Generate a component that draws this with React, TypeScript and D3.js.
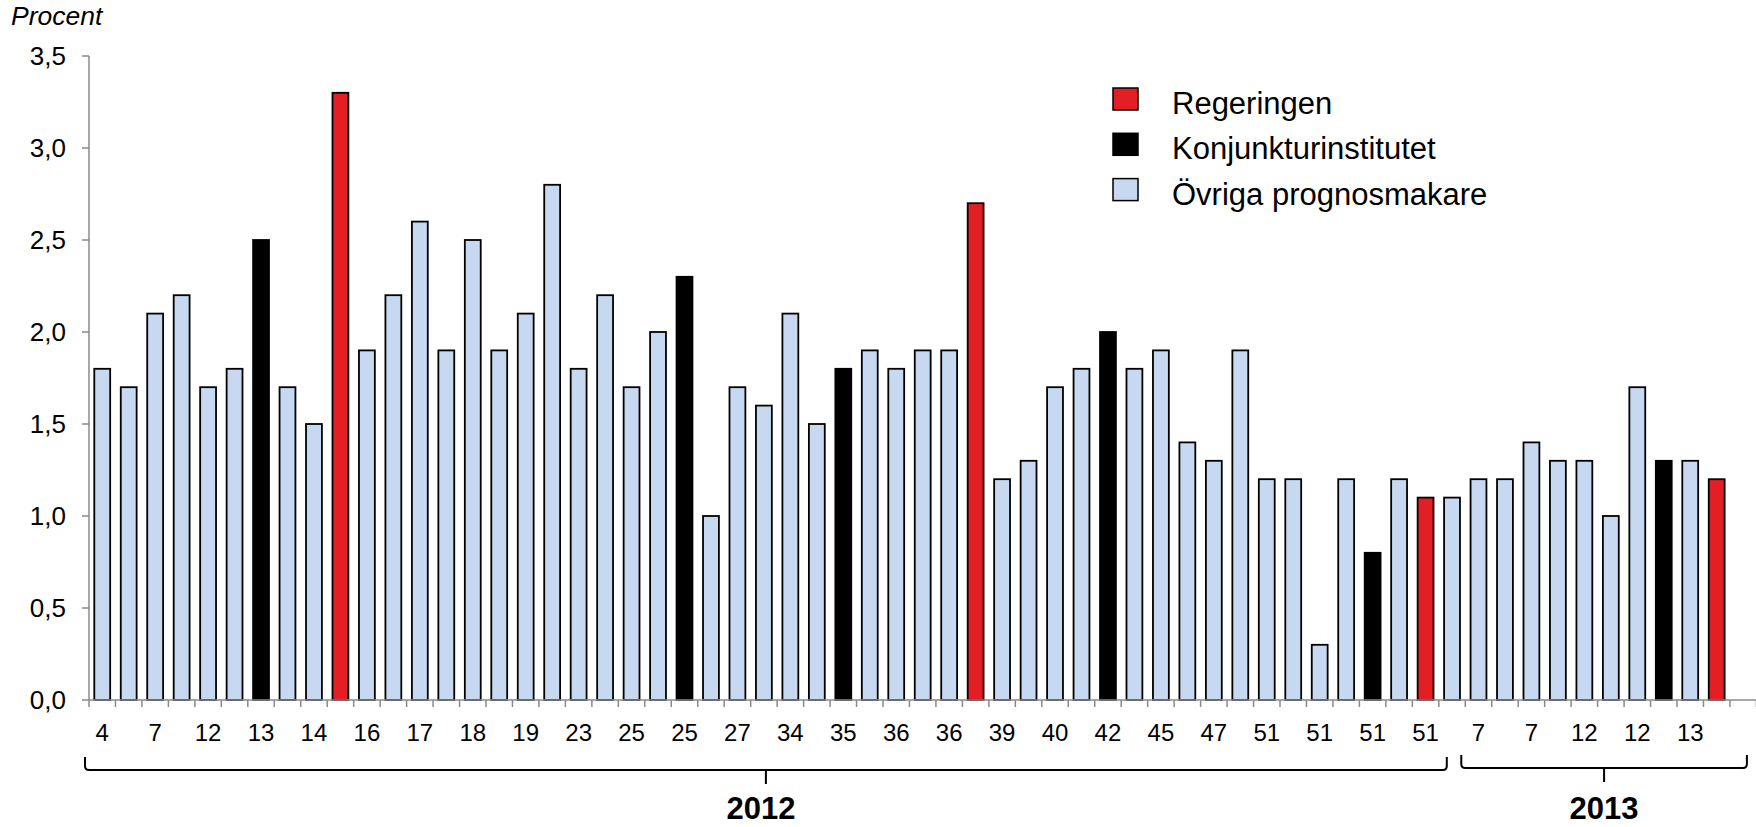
import React from "react";
import * as d3 from "d3";

// Week labels (every other bar), last slot is empty
const weekLabels: string[] = [
  "4", "", "7", "", "12", "", "13", "", "14", "", "16", "", "17", "", "18", "", "19", "", "23", "",
  "25", "", "25", "", "27", "", "34", "", "35", "", "36", "", "36", "", "39", "", "40", "", "42", "",
  "45", "", "47", "", "51", "", "51", "", "51", "", "51", "", "7", "", "7", "", "12", "", "12", "",
  "13", "", "",
];

const values: number[] = [
  1.8, 1.7, 2.1, 2.2, 1.7, 1.8, 2.5, 1.7, 1.5, 3.3,
  1.9, 2.2, 2.6, 1.9, 2.5, 1.9, 2.1, 2.8, 1.8, 2.2,
  1.7, 2.0, 2.3, 1.0, 1.7, 1.6, 2.1, 1.5, 1.8, 1.9,
  1.8, 1.9, 1.9, 2.7, 1.2, 1.3, 1.7, 1.8, 2.0, 1.8,
  1.9, 1.4, 1.3, 1.9, 1.2, 1.2, 0.3, 1.2, 0.8, 1.2,
  1.1, 1.1, 1.2, 1.2, 1.4, 1.3, 1.3, 1.0, 1.7, 1.3,
  1.3, 1.2,
];

// R = Regeringen, K = Konjunkturinstitutet, O = Övriga prognosmakare
const sources: string[] = [
  "O", "O", "O", "O", "O", "O", "K", "O", "O", "R",
  "O", "O", "O", "O", "O", "O", "O", "O", "O", "O",
  "O", "O", "K", "O", "O", "O", "O", "O", "K", "O",
  "O", "O", "O", "R", "O", "O", "O", "O", "K", "O",
  "O", "O", "O", "O", "O", "O", "O", "O", "K", "O",
  "R", "O", "O", "O", "O", "O", "O", "O", "O", "K",
  "O", "R",
];

const yTicks: number[] = [0, 0.5, 1, 1.5, 2, 2.5, 3, 3.5];

const legendKeys: string[] = ["R", "K", "O"];
const legendNames: string[] = ["Regeringen", "Konjunkturinstitutet", "Övriga prognosmakare"];

const years: string[] = ["2012", "2013"];
const yearStart: number[] = [0, 52];
const yearEnd: number[] = [51, 62];

const colors: Record<string, string> = {
  R: "#E31E24",
  K: "#000000",
  O: "#C6D9F1",
};

const FONT = "'Liberation Sans', Arial, Helvetica, sans-serif";

export default function App() {
  const W = 1756;
  const H = 827;
  const x0 = 89;
  const x1 = 1756.4;
  const yTop = 56;
  const yBase = 700;

  const x = d3
    .scaleBand<number>()
    .domain(d3.range(weekLabels.length))
    .range([x0, x1])
    .paddingInner(0)
    .paddingOuter(0);
  const bw = x.bandwidth();
  const barW = bw * 0.6;

  const y = d3.scaleLinear().domain([0, 3.5]).range([yBase, yTop]);

  const fmt = (v: number) => v.toFixed(1).replace(".", ",");

  const axisColor = "#8a8a8a";

  const bracketPath = (L: number, R: number, top: number, hy: number, C: number, down: number) => {
    const r = 4;
    return (
      `M${L},${top} V${hy - r} Q${L},${hy} ${L + r},${hy} H${R - r} Q${R},${hy} ${R},${hy - r} V${top} ` +
      `M${C},${hy} V${hy + down}`
    );
  };

  const bracketBounds = years.map((_, i) => {
    const L = (x(yearStart[i]) as number) - 4;
    const R = i === 0 ? (x(yearEnd[i]) as number) + 8 : (x(yearEnd[i]) as number) + bw - 9.5;
    return { L, R, C: (L + R) / 2 };
  });

  return (
    <svg
      width={W}
      height={H}
      style={{ position: "absolute", left: 0, top: 0, display: "block", background: "#fff" }}
      fontFamily={FONT}
    >
      <rect x={0} y={0} width={W} height={H} fill="#fff" />
      {/* Y axis title */}
      <text x={11} y={25} fontSize={26.5} fontStyle="italic" fill="#000">
        Procent
      </text>

      {/* Bars */}
      {values.map((v, i) => (
        <rect
          key={i}
          x={(x(i) as number) + (bw - barW) / 2}
          y={y(v)}
          width={barW}
          height={yBase - y(v)}
          fill={colors[sources[i]]}
          stroke="#000"
          strokeWidth={1.8}
        />
      ))}

      {/* Y axis */}
      <line x1={x0} x2={x0} y1={yTop} y2={yBase} stroke={axisColor} strokeWidth={1.5} />
      {yTicks.map((t) => (
        <g key={t}>
          <line x1={x0 - 7} x2={x0} y1={y(t)} y2={y(t)} stroke={axisColor} strokeWidth={1.5} />
          <text x={66} y={y(t) + 9} textAnchor="end" fontSize={26} fill="#000">
            {fmt(t)}
          </text>
        </g>
      ))}

      {/* X axis */}
      <line x1={x0} x2={x1} y1={yBase} y2={yBase} stroke={axisColor} strokeWidth={1.5} />
      {d3.range(weekLabels.length + 1).map((i) => {
        const xx = i < weekLabels.length ? (x(i) as number) : x1;
        return <line key={i} x1={xx} x2={xx} y1={yBase} y2={yBase + 7} stroke={axisColor} strokeWidth={1.5} />;
      })}
      {weekLabels.map((l, i) =>
        l ? (
          <text key={i} x={(x(i) as number) + bw / 2} y={741} textAnchor="middle" fontSize={24} fill="#000">
            {l}
          </text>
        ) : null
      )}

      {/* Year brackets */}
      {years.map((yr, i) => {
        const b = bracketBounds[i];
        return (
          <g key={yr}>
            <path
              d={bracketPath(b.L, b.R, i === 0 ? 757 : 755, i === 0 ? 770 : 768, b.C, 14)}
              fill="none"
              stroke="#000"
              strokeWidth={2}
            />
            <text x={b.C - (i === 0 ? 5 : 0)} y={819} textAnchor="middle" fontSize={31} fontWeight="bold" fill="#000">
              {yr}
            </text>
          </g>
        );
      })}

      {/* Legend */}
      {legendKeys.map((k, i) => {
        const cy = 99 + i * 45.3;
        return (
          <g key={k}>
            <rect x={1113} y={cy - 11} width={25} height={22} fill={colors[k]} stroke="#000" strokeWidth={1.5} />
            <text x={1172} y={cy + 15} fontSize={31} fill="#000">
              {legendNames[i]}
            </text>
          </g>
        );
      })}
    </svg>
  );
}
